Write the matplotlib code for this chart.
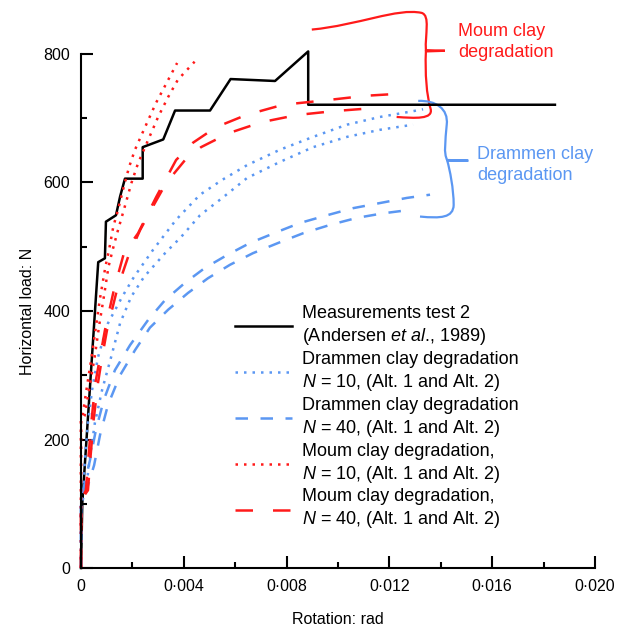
import matplotlib.pyplot as plt
from matplotlib.path import Path
from matplotlib.patches import PathPatch
from matplotlib.ticker import MultipleLocator, FuncFormatter

plt.rcParams["font.family"] = ["Liberation Sans", "DejaVu Sans"]
plt.rcParams["mathtext.fontset"] = "custom"
plt.rcParams["mathtext.rm"] = "Liberation Sans"
plt.rcParams["mathtext.it"] = "Liberation Sans:italic"

RED = "#ff1a1a"
BLUE = "#5b97f2"

# Measurements test 2 (Andersen et al., 1989)
meas_x = [0, 0.00005, 0.00067, 0.00093, 0.00097, 0.00136, 0.00152, 0.00171, 0.00240, 0.00240,
          0.00320, 0.00366, 0.00502, 0.00582, 0.00755, 0.00884, 0.00884, 0.01844]
meas_y = [0, 101, 476, 482, 539, 549, 578, 606, 606, 655,
          667, 712, 712, 761, 758, 804, 721, 721]

# Drammen clay, N = 10 (two alternatives)
dram10a_x = [0, 0, 0.00008, 0.00016, 0.00027, 0.00043, 0.00066, 0.00105, 0.00160, 0.00206, 0.00280,
             0.00370, 0.00463, 0.00549, 0.00646, 0.00774, 0.00903, 0.01035, 0.01163, 0.01292, 0.01331]
dram10a_y = [0, 98, 121, 173, 226, 277, 328, 381, 422, 453, 495,
             542, 581, 604, 627, 651, 671, 690, 702, 711, 714]
dram10b_x = [0, 0, 0.00019, 0.00035, 0.00054, 0.00082, 0.00117, 0.00152, 0.00195, 0.00245, 0.00327,
             0.00389, 0.00463, 0.00553, 0.00646, 0.00774, 0.00903, 0.01035, 0.01163, 0.01292]
dram10b_y = [0, 98, 121, 173, 226, 277, 328, 381, 422, 453, 490,
             515, 549, 577, 607, 632, 655, 671, 682, 690]

# Drammen clay, N = 40
dram40a_x = [0, 0, 0.00008, 0.00035, 0.00058, 0.00089, 0.00132, 0.00191, 0.00261, 0.00327, 0.00405,
             0.00482, 0.00568, 0.00658, 0.00763, 0.00852, 0.00957, 0.01058, 0.01163, 0.01268, 0.01358]
dram40a_y = [0, 100, 121, 168, 215, 262, 308, 347, 386, 417, 444,
             467, 487, 506, 523, 537, 549, 560, 568, 576, 581]
dram40b_x = [0, 0, 0.00016, 0.00051, 0.00074, 0.00105, 0.00152, 0.00210, 0.00268, 0.00339, 0.00416,
             0.00494, 0.00580, 0.00669, 0.00774, 0.00864, 0.00969, 0.01074, 0.01175, 0.01272]
dram40b_y = [0, 100, 114, 160, 207, 254, 300, 339, 374, 402, 428,
             451, 472, 490, 507, 521, 534, 545, 552, 557]

# Moum clay, N = 10
moum10a_x = [0, 0, 0.00006, 0.00021, 0.00041, 0.00060, 0.00074, 0.00095, 0.00109, 0.00126, 0.00144,
             0.00163, 0.00187, 0.00210, 0.00249, 0.00292, 0.00333, 0.00374]
moum10a_y = [0, 230, 237, 277, 328, 381, 420, 469, 495, 532, 557,
             588, 624, 651, 686, 724, 755, 786]
moum10b_x = [0, 0, 0.00014, 0.00031, 0.00053, 0.00072, 0.00088, 0.00107, 0.00123, 0.00144, 0.00170,
             0.00196, 0.00222, 0.00261, 0.00300, 0.00339, 0.00377, 0.00442]
moum10b_y = [0, 230, 237, 277, 328, 381, 420, 469, 495, 526, 562,
             599, 630, 666, 702, 733, 760, 788]

# Moum clay, N = 40
moum40a_x = [0, 0, 0.00019, 0.00029, 0.00041, 0.00056, 0.00074, 0.00093, 0.00128, 0.00167, 0.00222,
             0.00292, 0.00370, 0.00436, 0.00525, 0.00642, 0.00786, 0.00953, 0.01109, 0.01233]
moum40a_y = [0, 106, 121, 173, 230, 288, 328, 370, 433, 490, 521,
             577, 635, 662, 686, 705, 721, 728, 735, 738]
moum40b_x = [0, 0, 0.00027, 0.00037, 0.00049, 0.00066, 0.00082, 0.00101, 0.00140, 0.00183, 0.00230,
             0.00272, 0.00331, 0.00405, 0.00467, 0.00576, 0.00704, 0.00840, 0.00981, 0.01144]
moum40b_y = [0, 106, 121, 173, 230, 288, 328, 370, 433, 484, 526,
             557, 599, 635, 655, 677, 694, 705, 711, 716]

# curly braces (data units)
red_brace = [(0.00898, 838), (0.01080, 845), (0.01230, 872), (0.01325, 864),
             (0.01360, 860), (0.01338, 830), (0.01342, 806),
             (0.01416, 805), (0.01342, 804),
             (0.01338, 770), (0.01345, 735), (0.01360, 715),
             (0.01372, 698), (0.01300, 700), (0.01228, 702)]
blue_brace = [(0.01312, 727), (0.01380, 728), (0.01430, 715), (0.01423, 690),
              (0.01418, 665), (0.01410, 645), (0.01425, 635),
              (0.01507, 634), (0.01425, 634),
              (0.01435, 620), (0.01450, 590), (0.01450, 565),
              (0.01448, 545), (0.01400, 544), (0.01319, 547)]
brace_codes = ([Path.MOVETO] + [Path.CURVE4] * 6 + [Path.LINETO] * 2 + [Path.CURVE4] * 6)

fig = plt.figure(figsize=(6.27, 6.30), dpi=100)
ax = fig.add_axes([0.1292, 0.0984, 0.8198, 0.8159])

lw = 1.8
dotted = (0, (1, 2.4))
ax.plot(meas_x, meas_y, color="black", lw=lw, clip_on=False,
        label="Measurements test 2\n(Andersen $\\mathit{et\\ al}$., 1989)")
ax.plot(dram10a_x, dram10a_y, color=BLUE, lw=lw, ls=dotted, clip_on=False,
        label="Drammen clay degradation\n$N$ = 10, (Alt. 1 and Alt. 2)")
ax.plot(dram10b_x, dram10b_y, color=BLUE, lw=lw, ls=dotted, clip_on=False)
ax.plot(dram40a_x, dram40a_y, color=BLUE, lw=lw, ls=(0, (5, 5)), clip_on=False,
        label="Drammen clay degradation\n$N$ = 40, (Alt. 1 and Alt. 2)")
ax.plot(dram40b_x, dram40b_y, color=BLUE, lw=lw, ls=(0, (5, 5)), clip_on=False)
ax.plot(moum10a_x, moum10a_y, color=RED, lw=lw, ls=dotted, clip_on=False,
        label="Moum clay degradation,\n$N$ = 10, (Alt. 1 and Alt. 2)")
ax.plot(moum10b_x, moum10b_y, color=RED, lw=lw, ls=dotted, clip_on=False)
ax.plot(moum40a_x, moum40a_y, color=RED, lw=lw, ls=(0, (7, 8)), clip_on=False,
        label="Moum clay degradation,\n$N$ = 40, (Alt. 1 and Alt. 2)")
ax.plot(moum40b_x, moum40b_y, color=RED, lw=lw, ls=(0, (7, 8)), clip_on=False)

ax.add_patch(PathPatch(Path(red_brace, brace_codes), fill=False, edgecolor=RED, lw=1.6, clip_on=False))
ax.add_patch(PathPatch(Path(blue_brace, brace_codes), fill=False, edgecolor=BLUE, lw=1.6, clip_on=False))
ax.text(0.01467, 818, "Moum clay\ndegradation", color=RED, fontsize=13, va="center", ha="left",
        linespacing=1.3)
ax.text(0.01541, 627, "Drammen clay\ndegradation", color=BLUE, fontsize=13, va="center", ha="left",
        linespacing=1.3)

ax.set_xlim(0, 0.020)
ax.set_ylim(0, 800)
ax.xaxis.set_major_locator(MultipleLocator(0.004))
ax.xaxis.set_minor_locator(MultipleLocator(0.002))
ax.yaxis.set_major_locator(MultipleLocator(200))
ax.yaxis.set_minor_locator(MultipleLocator(100))
ax.xaxis.set_major_formatter(FuncFormatter(lambda v, _: "0" if abs(v) < 1e-9 else f"{v:.3f}".replace(".", "\u00b7")))
ax.tick_params(which="major", direction="in", length=8.5, width=1.5, labelsize=11.5, pad=8)
ax.tick_params(which="minor", direction="in", length=4.5, width=1.5)
for side in ["top", "right"]:
    ax.spines[side].set_visible(False)
for side in ["left", "bottom"]:
    ax.spines[side].set_linewidth(1.5)

ax.set_xlabel("Rotation: rad", fontsize=11.5, labelpad=13)
ax.set_ylabel("Horizontal load: N", fontsize=11.5, labelpad=6)

leg = ax.legend(loc="upper left", bbox_to_anchor=(235 / 627, 1 - 305 / 630), bbox_transform=fig.transFigure,
                frameon=False, fontsize=13, borderpad=0, borderaxespad=0, handlelength=3.15,
                handletextpad=0.55, labelspacing=0.22)
for t in leg.get_texts():
    t.set_linespacing(1.26)

fig.savefig("out.png", dpi=100)
